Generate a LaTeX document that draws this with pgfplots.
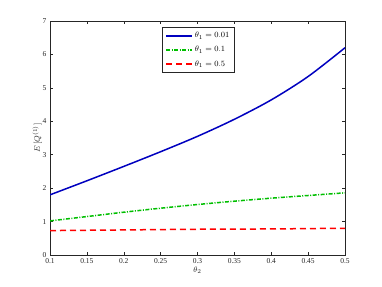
\documentclass[border=0pt]{standalone}
\usepackage{fontspec}
\setmainfont{Liberation Serif}
\usepackage{pgfplots}
\pgfplotsset{compat=1.18}

\definecolor{mblue}{rgb}{0,0,0.75}
\definecolor{mgreen}{rgb}{0,0.75,0}
\definecolor{axgray}{gray}{0.15}

\begin{document}
\begin{tikzpicture}
\useasboundingbox (-50pt,-31pt) rectangle (332pt,255pt);
\begin{axis}[
  at={(0,0)}, anchor=south west,
  scale only axis,
  width=295pt, height=234pt,
  xmin=0.1, xmax=0.5, ymin=0, ymax=7,
  xtick={0.1,0.15,...,0.5},
  ytick={0,1,...,7},
  xticklabels={0.1,0.15,0.2,0.25,0.3,0.35,0.4,0.45,0.5},
  tick align=inside,
  major tick length=3pt,
  axis line style={axgray, line width=0.5pt},
  tick style={axgray, line width=0.5pt},
  ticklabel style={font=\fontsize{7.5}{8}\selectfont, text=axgray},
  /pgf/number format/assume math mode=true,
  xlabel={$\theta_2$},
  ylabel={$E\,[Q^{(1)}]$},
  label style={font=\fontsize{8.5}{9}\selectfont, text=axgray},
  xlabel style={yshift=4pt},
  ylabel style={yshift=-6pt},
  legend style={at={(0.38,0.974)}, anchor=north west,
    font=\fontsize{8}{9}\selectfont, draw=axgray, line width=0.5pt,
    row sep=3pt, inner xsep=3pt, inner ysep=3pt},
  legend cell align=left,
  legend image code/.code={\draw[#1] (0pt,0pt) -- (26pt,0pt);},
]
\addplot[mblue, line width=1.5pt, smooth] coordinates {
  (0.10,1.80) (0.15,2.22) (0.20,2.65) (0.25,3.09) (0.30,3.55)
  (0.35,4.06) (0.40,4.64) (0.45,5.34) (0.50,6.20)
};
\addplot[mgreen, line width=1.5pt, dash pattern=on 4pt off 1.5pt on 1pt off 1.5pt, smooth] coordinates {
  (0.10,1.02) (0.15,1.15) (0.20,1.28) (0.25,1.40) (0.30,1.51)
  (0.35,1.61) (0.40,1.70) (0.45,1.78) (0.50,1.86)
};
\addplot[red, line width=1.5pt, dash pattern=on 6pt off 4pt, smooth] coordinates {
  (0.10,0.73) (0.20,0.75) (0.30,0.77) (0.40,0.78) (0.50,0.80)
};
\legend{$\theta_1=0.01$, $\theta_1=0.1$, $\theta_1=0.5$}
\end{axis}
\end{tikzpicture}
\end{document}
